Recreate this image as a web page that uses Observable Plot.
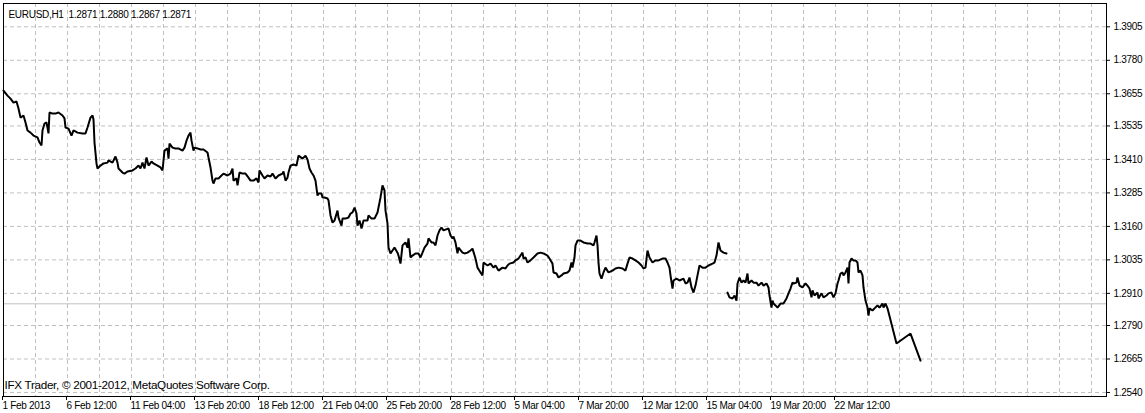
<!DOCTYPE html>
<html><head><meta charset="utf-8">
<script src="https://cdn.jsdelivr.net/npm/d3@7"></script>
<script src="https://cdn.jsdelivr.net/npm/@observablehq/plot@0.6"></script>
<style>
html,body{margin:0;padding:0;background:#fff;}
#chart svg{display:block;}
#chart svg text{letter-spacing:-0.3px;}
</style></head><body><div id="chart"></div>
<script>
// ---- data ----
const symbolTitle = "EURUSD,H1";
const headerQuotes = [1.2871, 1.2880, 1.2867, 1.2871];
const currentPrice = 1.2871;
const copyright = "IFX Trader, \u00a9 2001-2012, MetaQuotes Software Corp.";

const xTickBars = [0, 64, 128, 192, 256, 320, 384, 448, 512, 576, 640, 704, 768, 832];
const xTickLabels = ["1 Feb 2013", "6 Feb 12:00", "11 Feb 04:00", "13 Feb 20:00", "18 Feb 12:00",
  "21 Feb 04:00", "25 Feb 20:00", "28 Feb 12:00", "5 Mar 04:00", "7 Mar 20:00", "12 Mar 12:00",
  "15 Mar 04:00", "19 Mar 20:00", "22 Mar 12:00"];
const yTicks = [1.2540, 1.2665, 1.2790, 1.2910, 1.3035, 1.3160, 1.3285, 1.3410, 1.3535, 1.3655, 1.3780, 1.3905];

// segment 1 (bar index, close)
const bars1 = [0,4,7,10,13,15,17,20,22,24,27,30,34,36,38,39,41,43,45,46,49,52,55,59,61,62,65,68,70,74,79,82,84,87,89,90,91,93,94,97,100,104,105,109,112,114,115,119,121,124,129,132,135,137,139,141,143,145,148,150,154,157,159,160,161,164,165,166,169,172,175,179,181,183,185,187,188,190,191,194,197,200,204,205,207,209,210,212,215,218,220,224,227,229,230,233,234,236,239,242,245,247,250,253,255,256,259,261,264,267,269,272,275,279,280,282,284,285,287,290,293,295,299,302,304,306,308,310,312,314,315,318,319,321,324,325,327,329,331,334,335,338,339,342,345,347,349,351,353,354,356,358,360,364,365,368,371,374,376,377,379,381,382,384,385,387,389,391,394,395,397,399,402,404,405,407,409,412,415,417,419,421,424,425,428,430,432,434,436,438,440,442,445,447,449,450,452,454,455,459,461,464,467,469,472,474,477,479,480,484,487,490,492,495,499,502,504,506,510,512,515,519,520,522,524,527,530,534,537,540,544,546,549,550,553,555,558,560,564,566,568,569,571,572,574,577,580,584,587,590,591,593,594,595,596,598,600,602,605,609,612,615,619,622,624,626,629,632,635,638,640,642,644,646,649,652,655,659,662,664,666,667,669,670,673,676,680,682,684,686,688,690,692,694,696,699,702,705,709,711,713,715,717,720,723];
const close1 = [1.3667,1.3648,1.3637,1.3622,1.3626,1.3600,1.3566,1.3574,1.3548,1.3518,1.3510,1.3499,1.3492,1.3473,1.3462,1.3518,1.3544,1.3548,1.3507,1.3585,1.3581,1.3581,1.3585,1.3574,1.3563,1.3529,1.3525,1.3499,1.3518,1.3510,1.3507,1.3507,1.3529,1.3566,1.3574,1.3559,1.3473,1.3395,1.3376,1.3387,1.3395,1.3398,1.3406,1.3398,1.3421,1.3398,1.3376,1.3361,1.3357,1.3365,1.3369,1.3376,1.3387,1.3376,1.3398,1.3376,1.3417,1.3387,1.3402,1.3395,1.3387,1.3380,1.3369,1.3406,1.3443,1.3451,1.3413,1.3469,1.3454,1.3451,1.3451,1.3443,1.3454,1.3480,1.3499,1.3510,1.3480,1.3443,1.3454,1.3451,1.3447,1.3447,1.3436,1.3417,1.3380,1.3331,1.3320,1.3339,1.3339,1.3350,1.3357,1.3350,1.3357,1.3376,1.3331,1.3339,1.3313,1.3361,1.3357,1.3357,1.3342,1.3331,1.3331,1.3339,1.3324,1.3369,1.3350,1.3339,1.3350,1.3346,1.3357,1.3339,1.3350,1.3357,1.3365,1.3331,1.3342,1.3361,1.3387,1.3391,1.3387,1.3424,1.3413,1.3424,1.3410,1.3376,1.3361,1.3350,1.3331,1.3275,1.3283,1.3283,1.3268,1.3268,1.3264,1.3257,1.3201,1.3174,1.3182,1.3219,1.3193,1.3163,1.3189,1.3189,1.3193,1.3208,1.3212,1.3230,1.3208,1.3163,1.3182,1.3152,1.3182,1.3182,1.3201,1.3189,1.3189,1.3212,1.3249,1.3268,1.3313,1.3294,1.3219,1.3171,1.3081,1.3059,1.3070,1.3081,1.3062,1.3051,1.3021,1.3089,1.3100,1.3081,1.3115,1.3044,1.3051,1.3059,1.3059,1.3044,1.3062,1.3081,1.3096,1.3115,1.3100,1.3100,1.3089,1.3126,1.3145,1.3156,1.3145,1.3148,1.3152,1.3126,1.3115,1.3122,1.3100,1.3059,1.3081,1.3062,1.3059,1.3062,1.3070,1.3077,1.3040,1.3006,1.2988,1.2977,1.3025,1.3014,1.3021,1.3006,1.3014,1.2995,1.3006,1.3003,1.3014,1.3021,1.3025,1.3033,1.3040,1.3062,1.3040,1.3044,1.3025,1.3033,1.3044,1.3059,1.3062,1.3059,1.3051,1.3040,1.3021,1.2988,1.2984,1.2969,1.2977,1.2984,1.2988,1.2995,1.3025,1.3006,1.3044,1.3089,1.3107,1.3107,1.3100,1.3096,1.3096,1.3089,1.3100,1.3126,1.3089,1.3025,1.2984,1.2965,1.2988,1.3006,1.2988,1.2995,1.3003,1.3006,1.3003,1.2995,1.3021,1.3044,1.3040,1.3033,1.3025,1.3014,1.3003,1.3006,1.3070,1.3044,1.3025,1.3033,1.3033,1.3040,1.3040,1.3025,1.3006,1.2977,1.2928,1.2958,1.2965,1.2958,1.2965,1.2947,1.2950,1.2969,1.2932,1.2913,1.2939,1.2977,1.3014,1.3006,1.3006,1.3014,1.3021,1.3025,1.3051,1.3100,1.3070,1.3062,1.3059];

// segment 2 (after the data gap)
const bars2 = [724,726,729,731,733,734,736,738,740,742,744,745,748,750,753,755,758,760,763,765,766,768,769,770,772,774,777,780,783,785,787,789,790,793,794,796,799,802,804,806,808,809,811,814,815,818,820,823,825,828,830,832,834,835,837,839,840,842,844,845,846,848,850,852,854,855,857,859,860,862,864,865,866,869,871,874,876,879,880,882,884,893,907,917];
const close2 = [1.2913,1.2895,1.2891,1.2902,1.2883,1.2947,1.2969,1.2950,1.2958,1.2950,1.2984,1.2947,1.2958,1.2950,1.2950,1.2939,1.2950,1.2939,1.2947,1.2932,1.2902,1.2857,1.2883,1.2872,1.2865,1.2857,1.2872,1.2872,1.2891,1.2910,1.2928,1.2950,1.2947,1.2950,1.2969,1.2939,1.2932,1.2947,1.2939,1.2928,1.2895,1.2921,1.2902,1.2913,1.2891,1.2910,1.2895,1.2902,1.2910,1.2913,1.2895,1.2910,1.2947,1.2958,1.2984,1.2988,1.2977,1.2988,1.3006,1.2947,1.3025,1.3040,1.3033,1.3033,1.3025,1.2988,1.2995,1.2977,1.2932,1.2883,1.2857,1.2827,1.2854,1.2846,1.2854,1.2865,1.2857,1.2872,1.2857,1.2872,1.2854,1.2723,1.2760,1.2659];

// ---- build ----
const rows = [
  ...bars1.map((b, i) => ({bar: b, close: close1[i], seg: 1})),
  ...bars2.map((b, i) => ({bar: b, close: close2[i], seg: 2}))
];
const labelOf = new Map(xTickBars.map((b, i) => [b, xTickLabels[i]]));
const gridBars = d3.range(32, 1103, 32);
const header = symbolTitle + "  " + headerQuotes.map(d => d.toFixed(4)).join(" ");
const FONT = "'Liberation Sans',Arial,sans-serif";
const GRID = "#c0c0c0";

const chart = Plot.plot({
  width: 1145, height: 413,
  marginLeft: 3, marginRight: 39, marginTop: 3, marginBottom: 17,
  style: {fontFamily: FONT, fontSize: "10px", color: "#000", background: "#fff", overflow: "visible"},
  x: {domain: [0, 1103], axis: null},
  y: {domain: [1.2525, 1.3992], axis: null},
  marks: [
    Plot.gridX(gridBars, {stroke: GRID, strokeOpacity: 1, strokeDasharray: "4,3"}),
    Plot.gridY(yTicks, {stroke: GRID, strokeOpacity: 1, strokeDasharray: "4,3"}),
    Plot.ruleY([currentPrice], {stroke: GRID, strokeWidth: 1}),
    Plot.line(rows, {x: "bar", y: "close", z: "seg", stroke: "#000", strokeWidth: 2, strokeLinejoin: "miter"}),
    Plot.frame({stroke: "#000"}),
    Plot.axisX({ticks: xTickBars, tickFormat: d => labelOf.get(d), tickSize: 4, tickPadding: 1,
      textAnchor: "start", dx: -1, anchor: "bottom", label: null, stroke: "#000"}),
    Plot.axisY({anchor: "right", ticks: yTicks, tickFormat: d => d.toFixed(4), tickSize: 3, tickPadding: 4,
      label: null, stroke: "#000"}),
    Plot.text([header], {frameAnchor: "top-left", dx: 5, dy: 7, text: d => d, textAnchor: "start", fill: "#000"}),
    Plot.text([copyright], {frameAnchor: "bottom-left", dx: 1, dy: -8, text: d => d, textAnchor: "start",
      fill: "#000", fontSize: 11.7, ariaLabel: "copyright"}),
    Plot.text([currentPrice], {y: d => d, frameAnchor: "right", dx: 5, text: d => d.toFixed(4),
      textAnchor: "start", fill: "#fff", ariaLabel: "current-price"})
  ]
});
document.getElementById("chart").appendChild(chart);

// copyright uses normal letter spacing
d3.select(chart).select('g[aria-label="copyright"]').selectAll("text")
  .style("letter-spacing", "0px").style("font-size", "11.7px");

// black badge behind the current price label
const g = d3.select(chart).select('g[aria-label="current-price"]');
g.selectAll("text").each(function () {
  const b = this.getBBox();
  d3.select(this.parentNode).insert("rect", () => this)
    .attr("x", b.x - 2).attr("y", b.y - 1)
    .attr("width", b.width + 6).attr("height", b.height + 1)
    .attr("fill", "#000");
});
</script></body></html>
